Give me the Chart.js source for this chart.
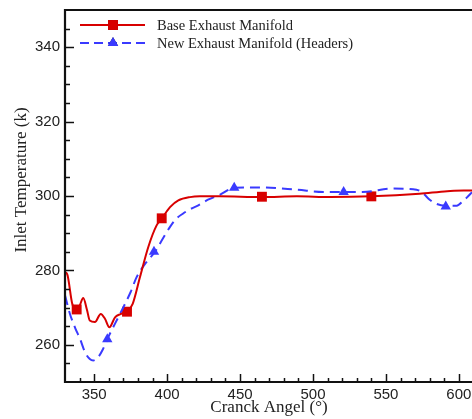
<!DOCTYPE html>
<html>
<head>
<meta charset="utf-8">
<script src="https://cdn.jsdelivr.net/npm/chart.js@4/dist/chart.umd.min.js"></script>
<style>
  html, body { margin: 0; padding: 0; background: #fff; overflow: hidden; }
  canvas { display: block; }
</style>
</head>
<body>
<canvas id="grafico" width="472" height="419"></canvas>
<script>
// Datos
const baseAngulo = [330, 331.5, 335, 338, 340, 342.5, 345, 347, 350.5, 354.5, 357.4, 360.4, 364.3, 367.7, 372.3, 376.4, 381.4, 387.1, 392.8, 396.3, 402, 407.7, 415.7, 422.5, 436, 465, 489, 512, 540, 573, 592, 609];
const baseTemp   = [279.5, 279, 271, 269.4, 270.5, 272.6, 269.5, 266.5, 266.1, 268.3, 267, 264.7, 267.4, 268.2, 268.8, 271, 278.2, 286.3, 292.1, 293.9, 297, 298.8, 299.7, 299.9, 299.9, 299.7, 299.9, 299.7, 299.9, 300.6, 301.3, 301.5];

const nuevoAngulo = [330, 333.4, 337, 340.3, 343.7, 347, 349.4, 352.8, 356, 359, 364.3, 370, 375, 379.1, 385, 391.7, 397, 402, 406, 411, 416, 421.4, 428, 436, 446, 464, 489, 507, 521, 534, 555, 571, 576, 580, 584, 590.5, 598.5, 603, 606, 609];
const nuevoTemp   = [273.3, 268.3, 264.5, 261.6, 258, 256.2, 255.8, 256.7, 258.8, 261.5, 265.7, 270.1, 274.2, 278.2, 281.8, 285, 288.5, 291.7, 293.8, 295.3, 296.5, 297.5, 299, 300.3, 302.2, 302.3, 301.7, 301.1, 301.1, 301.1, 302, 301.7, 300.5, 299, 298, 297.4, 297.4, 298.7, 299.8, 301];

// Marcadores
const baseMarcaAngulo = [338, 372.5, 396.3, 465, 540];
const baseMarcaTemp   = [269.5, 268.9, 294, 299.8, 299.9];
const nuevoMarcaAngulo = [359, 391, 446, 521, 591];
const nuevoMarcaTemp   = [261.5, 285, 302.2, 301.1, 297.2];

const xTicks = [350, 400, 450, 500, 550, 600];
const yTicks = [260, 280, 300, 320, 340];
const etiquetas = ['Base Exhaust Manifold', 'New Exhaust Manifold (Headers)'];

const colores = {
  rojo: '#d80000',
  azul: '#3a3aff',
  texto: '#222'
};

const puntos = (xs, ys) => xs.map((x, i) => ({ x: x, y: ys[i] }));

// Marco, marcas de eje hacia dentro y títulos
const decoracion = {
  id: 'decoracion',
  beforeDraw(chart) {
    const ctx = chart.ctx;
    ctx.save();
    ctx.fillStyle = '#fff';
    ctx.fillRect(0, 0, chart.width, chart.height);
    ctx.restore();
  },
  afterDraw(chart) {
    const ctx = chart.ctx;
    const a = chart.chartArea;
    const sx = chart.scales.x, sy = chart.scales.y;
    ctx.save();
    ctx.strokeStyle = '#111';
    ctx.lineWidth = 1.5;
    // marcas eje x
    for (let v = 340; v <= 600; v += 10) {
      const px = Math.round(sx.getPixelForValue(v)) + 0.5;
      const len = v % 50 === 0 ? 8 : 4;
      ctx.beginPath();
      ctx.moveTo(px, a.bottom);
      ctx.lineTo(px, a.bottom - len);
      ctx.stroke();
    }
    // marcas eje y
    for (let v = 255; v <= 345; v += 5) {
      const py = Math.round(sy.getPixelForValue(v)) + 0.5;
      const len = v % 20 === 0 ? 9 : 5;
      ctx.beginPath();
      ctx.moveTo(a.left, py);
      ctx.lineTo(a.left + len, py);
      ctx.stroke();
    }
    // marco
    ctx.lineWidth = 2.2;
    ctx.beginPath();
    ctx.moveTo(a.right + 2, a.top);
    ctx.lineTo(a.left, a.top);
    ctx.lineTo(a.left, a.bottom);
    ctx.lineTo(a.right + 2, a.bottom);
    ctx.stroke();

    // títulos de ejes
    ctx.fillStyle = colores.texto;
    ctx.font = '17px "Liberation Serif"';
    ctx.textAlign = 'center';
    ctx.textBaseline = 'middle';
    ctx.fillText('Cranck Angel (°)', 269, 408);
    ctx.save();
    ctx.translate(22, 180);
    ctx.rotate(-Math.PI / 2);
    ctx.fillText('Inlet Temperature (k)', 0, 0);
    ctx.restore();

    // leyenda
    const filas = [
      { y: 25, color: colores.rojo, dash: [], estilo: 'rect', radio: 7 },
      { y: 43, color: colores.azul, dash: [9, 5], estilo: 'triangle', radio: 6 }
    ];
    filas.forEach((f, i) => {
      ctx.strokeStyle = f.color;
      ctx.lineWidth = 2;
      ctx.setLineDash(f.dash);
      ctx.beginPath();
      ctx.moveTo(80, f.y);
      ctx.lineTo(145, f.y);
      ctx.stroke();
      ctx.setLineDash([]);
      Chart.helpers.drawPoint(ctx, { pointStyle: f.estilo, radius: f.radio, borderWidth: 0 }, 113, f.y);
      ctx.fillStyle = f.color;
      ctx.fill();
      ctx.fillStyle = colores.texto;
      ctx.font = '14.5px "Liberation Serif"';
      ctx.textAlign = 'left';
      ctx.fillText(etiquetas[i], 157, f.y + 1);
    });
    ctx.restore();
  }
};

document.addEventListener('DOMContentLoaded', function() {
  const ctx = document.getElementById('grafico').getContext('2d');
  new Chart(ctx, {
    type: 'line',
    data: {
      datasets: [
        {
          label: etiquetas[0],
          data: puntos(baseAngulo, baseTemp),
          borderColor: colores.rojo,
          borderWidth: 2,
          pointRadius: 0,
          cubicInterpolationMode: 'monotone',
          fill: false
        },
        {
          label: etiquetas[1],
          data: puntos(nuevoAngulo, nuevoTemp),
          borderColor: colores.azul,
          borderWidth: 2,
          borderDash: [10, 6],
          pointRadius: 0,
          cubicInterpolationMode: 'monotone',
          fill: false
        },
        {
          label: 'marcas base',
          data: puntos(baseMarcaAngulo, baseMarcaTemp),
          showLine: false,
          pointStyle: 'rect',
          pointRadius: 7,
          pointBackgroundColor: colores.rojo,
          pointBorderColor: colores.rojo,
          pointBorderWidth: 0
        },
        {
          label: 'marcas nuevo',
          data: puntos(nuevoMarcaAngulo, nuevoMarcaTemp),
          showLine: false,
          pointStyle: 'triangle',
          pointRadius: 6,
          pointBackgroundColor: colores.azul,
          pointBorderColor: colores.azul,
          pointBorderWidth: 0
        }
      ]
    },
    options: {
      responsive: false,
      animation: false,
      layout: { autoPadding: false, padding: { top: 10, right: 0, left: 0, bottom: 0 } },
      plugins: {
        legend: { display: false },
        tooltip: { enabled: false }
      },
      scales: {
        x: {
          type: 'linear',
          min: 330,
          max: 609,
          afterBuildTicks: s => { s.ticks = xTicks.map(v => ({ value: v })); },
          afterFit: s => { s.height = 37; s.paddingLeft = 0; s.paddingRight = 0; },
          grid: { display: false, drawTicks: false },
          border: { display: false },
          ticks: {
            padding: 4,
            color: colores.texto,
            font: { family: 'Liberation Sans', size: 15 }
          }
        },
        y: {
          min: 250,
          max: 350,
          afterBuildTicks: s => { s.ticks = yTicks.map(v => ({ value: v })); },
          afterFit: s => { s.width = 65; s.paddingTop = 0; s.paddingBottom = 0; },
          grid: { display: false, drawTicks: false },
          border: { display: false },
          ticks: {
            padding: 5,
            color: colores.texto,
            font: { family: 'Liberation Sans', size: 15 }
          }
        }
      }
    },
    plugins: [decoracion]
  });
});
</script>
</body>
</html>
